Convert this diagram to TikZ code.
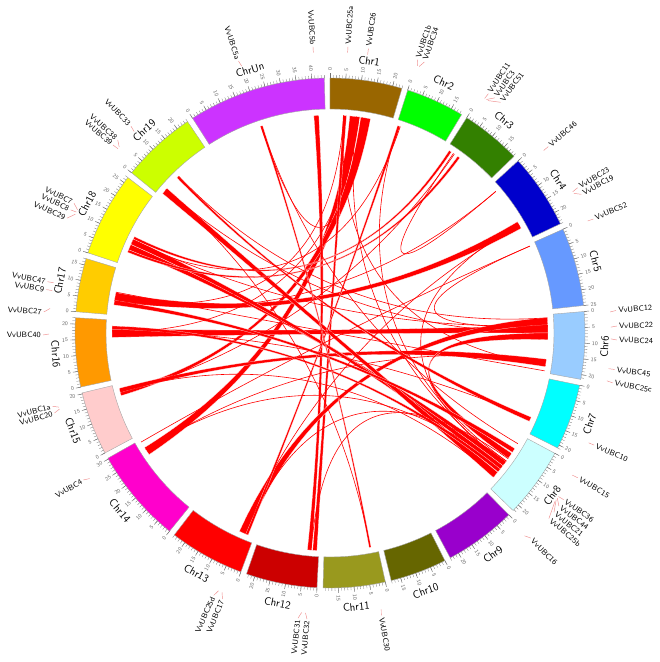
\documentclass[tikz,border=0pt]{standalone}
\usepackage{fontspec}
\usepackage{tikz}

\definecolor{c1}{RGB}{153,102,0}
\definecolor{c2}{RGB}{0,255,0}
\definecolor{c3}{RGB}{51,128,0}
\definecolor{c4}{RGB}{0,0,204}
\definecolor{c5}{RGB}{102,153,255}
\definecolor{c6}{RGB}{153,204,255}
\definecolor{c7}{RGB}{0,255,255}
\definecolor{c8}{RGB}{204,255,255}
\definecolor{c9}{RGB}{153,0,204}
\definecolor{c10}{RGB}{102,102,0}
\definecolor{c11}{RGB}{153,153,30}
\definecolor{c12}{RGB}{204,0,0}
\definecolor{c13}{RGB}{255,0,0}
\definecolor{c14}{RGB}{255,0,204}
\definecolor{c15}{RGB}{255,204,204}
\definecolor{c16}{RGB}{255,153,0}
\definecolor{c17}{RGB}{255,204,0}
\definecolor{c18}{RGB}{255,255,0}
\definecolor{c19}{RGB}{204,255,0}
\definecolor{cUn}{RGB}{204,51,255}
\definecolor{linkred}{RGB}{255,0,0}
\definecolor{lablink}{RGB}{238,140,140}

\begin{document}
\begin{tikzpicture}[
x=1pt, y=1pt,
ideo/.style={draw=black!35, line width=0.4pt},
minortick/.style={draw=black!55, line width=0.3pt},
majortick/.style={draw=black!55, line width=0.45pt},
ticklab/.style={font=\sffamily\fontsize{5.5}{6}\selectfont, text=black!60, inner sep=0pt},
chrlab/.style={font=\sffamily\fontsize{11}{13}\selectfont, inner sep=0pt},
genelab/.style={font=\sffamily\fontsize{7.8}{8}\selectfont, inner sep=0pt},
genelink/.style={draw=lablink, line width=0.45pt},
ribbon/.style={fill=linkred, draw=white, line width=0.2pt},
thinlink/.style={draw=linkred, line width=0.6pt}
]
\def\k{0.7128}
\def\rIn{224pt}
\def\rOut{255pt}
\def\rMin{258pt}
\def\rMaj{260pt}
\def\rTl{262pt}
\def\rChr{275pt}
\def\rL{218pt}
\def\rC{72.7pt}

\useasboundingbox (-330,-329) rectangle (330,333);

% links between paralogous genes
\foreach \pa/\wa/\pb/\wb in {6.5/1.3/237.2/1.1, 9.4/1.3/253.9/0.6, 3.9/0.45/184.0/0.55,
  356.4/0.65/185.4/0.55, 60.3/1.0/279.6/1.1, 88.9/1.05/270.0/1.15, 86.9/0.95/203.5/1.05,
  97.9/1.0/254.7/0.6, 126.8/0.7/293.2/0.75, 128.2/0.7/294.8/0.8, 130.6/0.9/310.7/0.9,
  124.3/0.8/90.9/0.9, 33.5/0.35/295.9/0.35, 36.2/0.35/292.1/0.35, 18.4/0.35/202.4/0.35,
  113.3/0.6/315.7/0.35, 122.6/0.6/278.0/0.6, 129.1/0.5/271.4/0.45, 341.7/0.3/169.4/0.25}{
  \fill[ribbon] ({90-\pa+\wa}:\rL) arc[start angle={90-\pa+\wa}, end angle={90-\pa-\wa}, radius=\rL]
    .. controls ({90-\pa-\wa}:\rC) and ({90-\pb+\wb}:\rC) .. ({90-\pb+\wb}:\rL)
    arc[start angle={90-\pb+\wb}, end angle={90-\pb-\wb}, radius=\rL]
    .. controls ({90-\pb-\wb}:\rC) and ({90-\pa+\wa}:\rC) .. ({90-\pa+\wa}:\rL) -- cycle;
}
\foreach \pa/\pb in {49.5/278.5, 49.5/34.5, 66.5/88.2, 66.5/240.0, 341.7/120.5, 7.0/126.5,
  3.6/98.5, 18.8/294.6, 34.8/254.0, 88.0/295.2, 90.0/311.2, 126.0/203.0, 128.0/237.8,
  100.0/280.8, 113.0/270.6, 60.0/126.8, 316.0/86.0, 341.5/8.5, 185.0/125.2, 169.4/311.0,
  254.6/131.0, 237.6/97.3, 3.6/279.0, 7.7/270.3, 18.3/126.0, 60.5/203.8}{
  \draw[thinlink] ({90-\pa}:\rL) .. controls ({90-\pa}:\rC) and ({90-\pb}:\rC) .. ({90-\pb}:\rL);
}

% ideogram: name/start angle/length (Mb)/colour
\foreach \nm/\st/\len/\col in {Chr1/0/23/c1, Chr2/17.74/18.7/c2, Chr3/32.42/19.3/c3,
  Chr4/47.53/24/c4, Chr5/65.99/25/c5, Chr6/85.16/21.5/c6, Chr7/101.83/21/c7,
  Chr8/118.15/22.4/c8, Chr9/135.47/23/c9, Chr10/153.21/18.1/c10, Chr11/167.46/19.8/c11,
  Chr12/182.93/22.7/c12, Chr13/200.46/24.1/c13, Chr14/218.99/30.3/c14, Chr15/241.94/20.3/c15,
  Chr16/257.76/22/c16, Chr17/274.79/17.1/c17, Chr18/288.32/27/c18, Chr19/308.92/24/c19,
  ChrUn/327.38/44/cUn}{
  \pgfmathsetmacro\ts{90-\st}
  \pgfmathsetmacro\te{90-\st-\len*\k}
  \filldraw[ideo, fill=\col] (\ts:\rIn) arc[start angle=\ts, end angle=\te, radius=\rIn]
    -- (\te:\rOut) arc[start angle=\te, end angle=\ts, radius=\rOut] -- cycle;
  \pgfmathtruncatemacro\nt{\len}
  \foreach \tk in {0,...,\nt}{
    \pgfmathsetmacro\ta{90-\st-\tk*\k}
    \draw[minortick] (\ta:\rOut) -- (\ta:\rMin);
  }
  \pgfmathsetmacro\md{\st+\len*\k/2}
  \foreach \tk in {0,5,...,\nt}{
    \pgfmathsetmacro\ta{90-\st-\tk*\k}
    \draw[majortick] (\ta:\rOut) -- (\ta:\rMaj);
    \ifdim\md pt<180pt
      \node[ticklab, anchor=west, rotate=\ta] at (\ta:\rTl) {\tk};
    \else
      \node[ticklab, anchor=east, rotate=\ta+180] at (\ta:\rTl) {\tk};
    \fi
  }
  \pgfmathsetmacro\rotc{(\md<90 || \md>270) ? -\md : 180-\md}
  \node[chrlab, rotate=\rotc] (lab\nm) at (90-\md:\rChr) {\nm};
}

% gene labels: label angle/position angle/name
\foreach \lab/\pos/\txt in {341.4/341.7/VvUBC5a, 356.6/356.6/VvUBC5b, 3.6/3.6/VvUBC25a,
  7.7/7.7/VvUBC26, 17.8/18.1/VvUBC1b, 19.2/18.5/VvUBC34, 33.5/33.4/VvUBC11,
  35.0/33.8/VvUBC3, 36.5/34.2/VvUBC51, 49.5/49.5/VvUBC46, 59.6/59.8/VvUBC23,
  61.1/60.2/VvUBC19, 66.6/66.5/VvUBC52, 85.5/85.7/VvUBC12, 88.6/88.8/VvUBC22,
  91.4/91.2/VvUBC24, 97.3/97.3/VvUBC45, 100.0/99.8/VvUBC25c, 113.0/113.0/VvUBC10,
  120.3/120.4/VvUBC15, 125.5/125.6/VvUBC36, 127.1/126.0/VvUBC44, 128.7/126.4/VvUBC21,
  130.3/126.8/VvUBC25b, 135.6/136.2/VvUBC16, 169.7/169.5/VvUBC30, 184.6/185.0/VvUBC32,
  186.4/185.8/VvUBC31, 202.0/202.6/VvUBC17, 203.9/203.4/VvUBC25d, 239.2/238.8/VvUBC4,
  253.8/254.3/VvUBC20, 255.2/254.7/VvUBC1a, 269.6/269.8/VvUBC40, 274.2/275.0/VvUBC27,
  278.7/278.7/VvUBC9, 280.3/280.3/VvUBC47, 293.6/295.0/VvUBC29, 295.4/295.5/VvUBC8,
  296.9/296.0/VvUBC7, 310.9/311.0/VvUBC39, 312.3/311.4/VvUBC38, 316.1/315.8/VvUBC33}{
  \pgfmathsetmacro\tl{90-\lab}
  \pgfmathsetmacro\tp{90-\pos}
  \draw[genelink] (\tp:281pt) -- (\tl:287pt);
  \ifdim\lab pt<180pt
    \node[genelab, anchor=west, rotate=\tl] (g\txt) at (\tl:289pt) {\txt};
  \else
    \node[genelab, anchor=east, rotate=\tl+180] (g\txt) at (\tl:289pt) {\txt};
  \fi
}
\end{tikzpicture}
\end{document}
